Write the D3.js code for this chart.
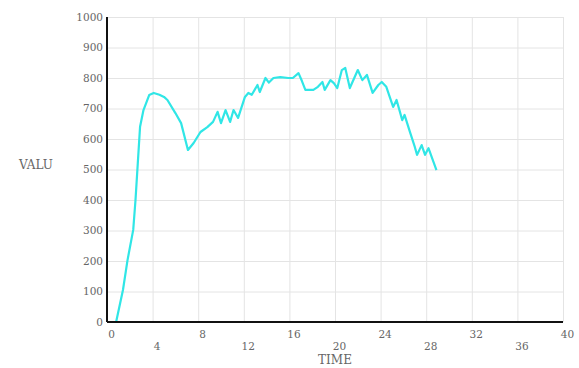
<!DOCTYPE html>
<html>
<head>
<meta charset="utf-8">
<script src="https://cdn.jsdelivr.net/npm/d3@7"></script>
<style>
  body { margin: 0; background: #fff; }
  svg text { font-family: "DejaVu Serif", serif; fill: #666; }
</style>
</head>
<body>
<div id="chart"></div>
<script>
// data
const times = [0, 0.8, 1.4, 1.8, 2.3, 2.5, 2.7, 2.9, 3.2, 3.7, 4.1, 4.6, 5.0, 5.3, 6.0, 6.5, 7.1,
  7.6, 8.2, 8.8, 9.3, 9.7, 10.0, 10.4, 10.8, 11.1, 11.5, 12.1, 12.4, 12.7, 13.2, 13.4, 13.9,
  14.2, 14.6, 15.2, 15.9, 16.3, 16.8, 17.1, 17.4, 18.1, 18.5, 18.9, 19.1, 19.6, 19.9, 20.2,
  20.6, 20.9, 21.3, 22.0, 22.4, 22.8, 23.3, 23.8, 24.1, 24.5, 25.1, 25.4, 25.9, 26.1, 26.6,
  27.0, 27.2, 27.6, 27.9, 28.2, 28.9];
const values = [0, 0, 105, 203, 302, 400, 520, 640, 695, 744, 751, 745, 738, 728, 685, 652, 564,
  587, 623, 639, 656, 689, 652, 695, 656, 695, 669, 738, 751, 745, 777, 754, 800,
  785, 800, 803, 800, 800, 816, 790, 761, 761, 771, 787, 761, 793, 783, 767,
  826, 833, 767, 826, 793, 810, 751, 777, 787, 771, 705, 728, 662, 679, 620,
  574, 548, 580, 548, 570, 498];
const xTicks = [0, 4, 8, 12, 16, 20, 24, 28, 32, 36, 40];
const yTicks = [0, 100, 200, 300, 400, 500, 600, 700, 800, 900, 1000];
const xLabel = 'TIME';
const yLabel = 'VALU';

const width = 579, height = 368;
const margin = { top: 17, right: 16, bottom: 46, left: 107 };
const innerWidth = width - margin.left - margin.right;
const innerHeight = height - margin.top - margin.bottom;

const svg = d3.select('#chart').append('svg')
  .attr('width', width)
  .attr('height', height)
  .style('display', 'block');

const g = svg.append('g')
  .attr('transform', `translate(${margin.left},${margin.top})`);

const x = d3.scaleLinear().domain([0, 40]).range([0, innerWidth]);
const y = d3.scaleLinear().domain([0, 1000]).range([innerHeight, 0]);

// grid
g.append('g')
  .attr('transform', `translate(0,${innerHeight})`)
  .call(d3.axisBottom(x).tickValues(xTicks.slice(1)).tickSize(-innerHeight).tickFormat(''))
  .call(a => a.select('.domain').remove())
  .selectAll('line').attr('stroke', '#e4e4e4');

g.append('g')
  .call(d3.axisLeft(y).tickValues(yTicks.slice(1)).tickSize(-innerWidth).tickFormat(''))
  .call(a => a.select('.domain').remove())
  .selectAll('line').attr('stroke', '#e4e4e4');

// line
const line = d3.line()
  .x((d, i) => x(times[i]))
  .y(d => y(d));

g.append('path')
  .datum(values)
  .attr('fill', 'none')
  .attr('stroke', '#30e6e6')
  .attr('stroke-width', 2.2)
  .attr('stroke-linejoin', 'round')
  .attr('d', line);

// axes lines
g.append('line')
  .attr('x1', 0).attr('x2', 0)
  .attr('y1', 0).attr('y2', innerHeight)
  .attr('stroke', '#111').attr('stroke-width', 2);
g.append('line')
  .attr('x1', 0).attr('x2', innerWidth)
  .attr('y1', innerHeight).attr('y2', innerHeight)
  .attr('stroke', '#111').attr('stroke-width', 2);

// tick labels
const xAxis = g.append('g')
  .attr('transform', `translate(0,${innerHeight})`)
  .call(d3.axisBottom(x).tickValues(xTicks).tickSize(0).tickFormat(d3.format('d')))
  .attr('font-family', null)
  .attr('font-size', null);
xAxis.select('.domain').remove();
xAxis.selectAll('text')
  .attr('dx', 4)
  .attr('y', (d, i) => i % 2 === 0 ? 12 : 24)
  .attr('dy', '0.35em')
  .style('font-size', '10.5px');

const yAxis = g.append('g')
  .call(d3.axisLeft(y).tickValues(yTicks).tickSize(0).tickFormat(d3.format('d')))
  .attr('font-family', null)
  .attr('font-size', null);
yAxis.select('.domain').remove();
yAxis.selectAll('text')
  .attr('x', -4)
  .style('font-size', '10.5px');

// axis titles
svg.append('text')
  .attr('x', margin.left + x(20))
  .attr('y', 364)
  .attr('text-anchor', 'middle')
  .style('font-size', '12px')
  .text(xLabel);

svg.append('text')
  .attr('x', 36)
  .attr('y', 169)
  .attr('text-anchor', 'middle')
  .style('font-size', '12px')
  .text(yLabel);
</script>
</body>
</html>
